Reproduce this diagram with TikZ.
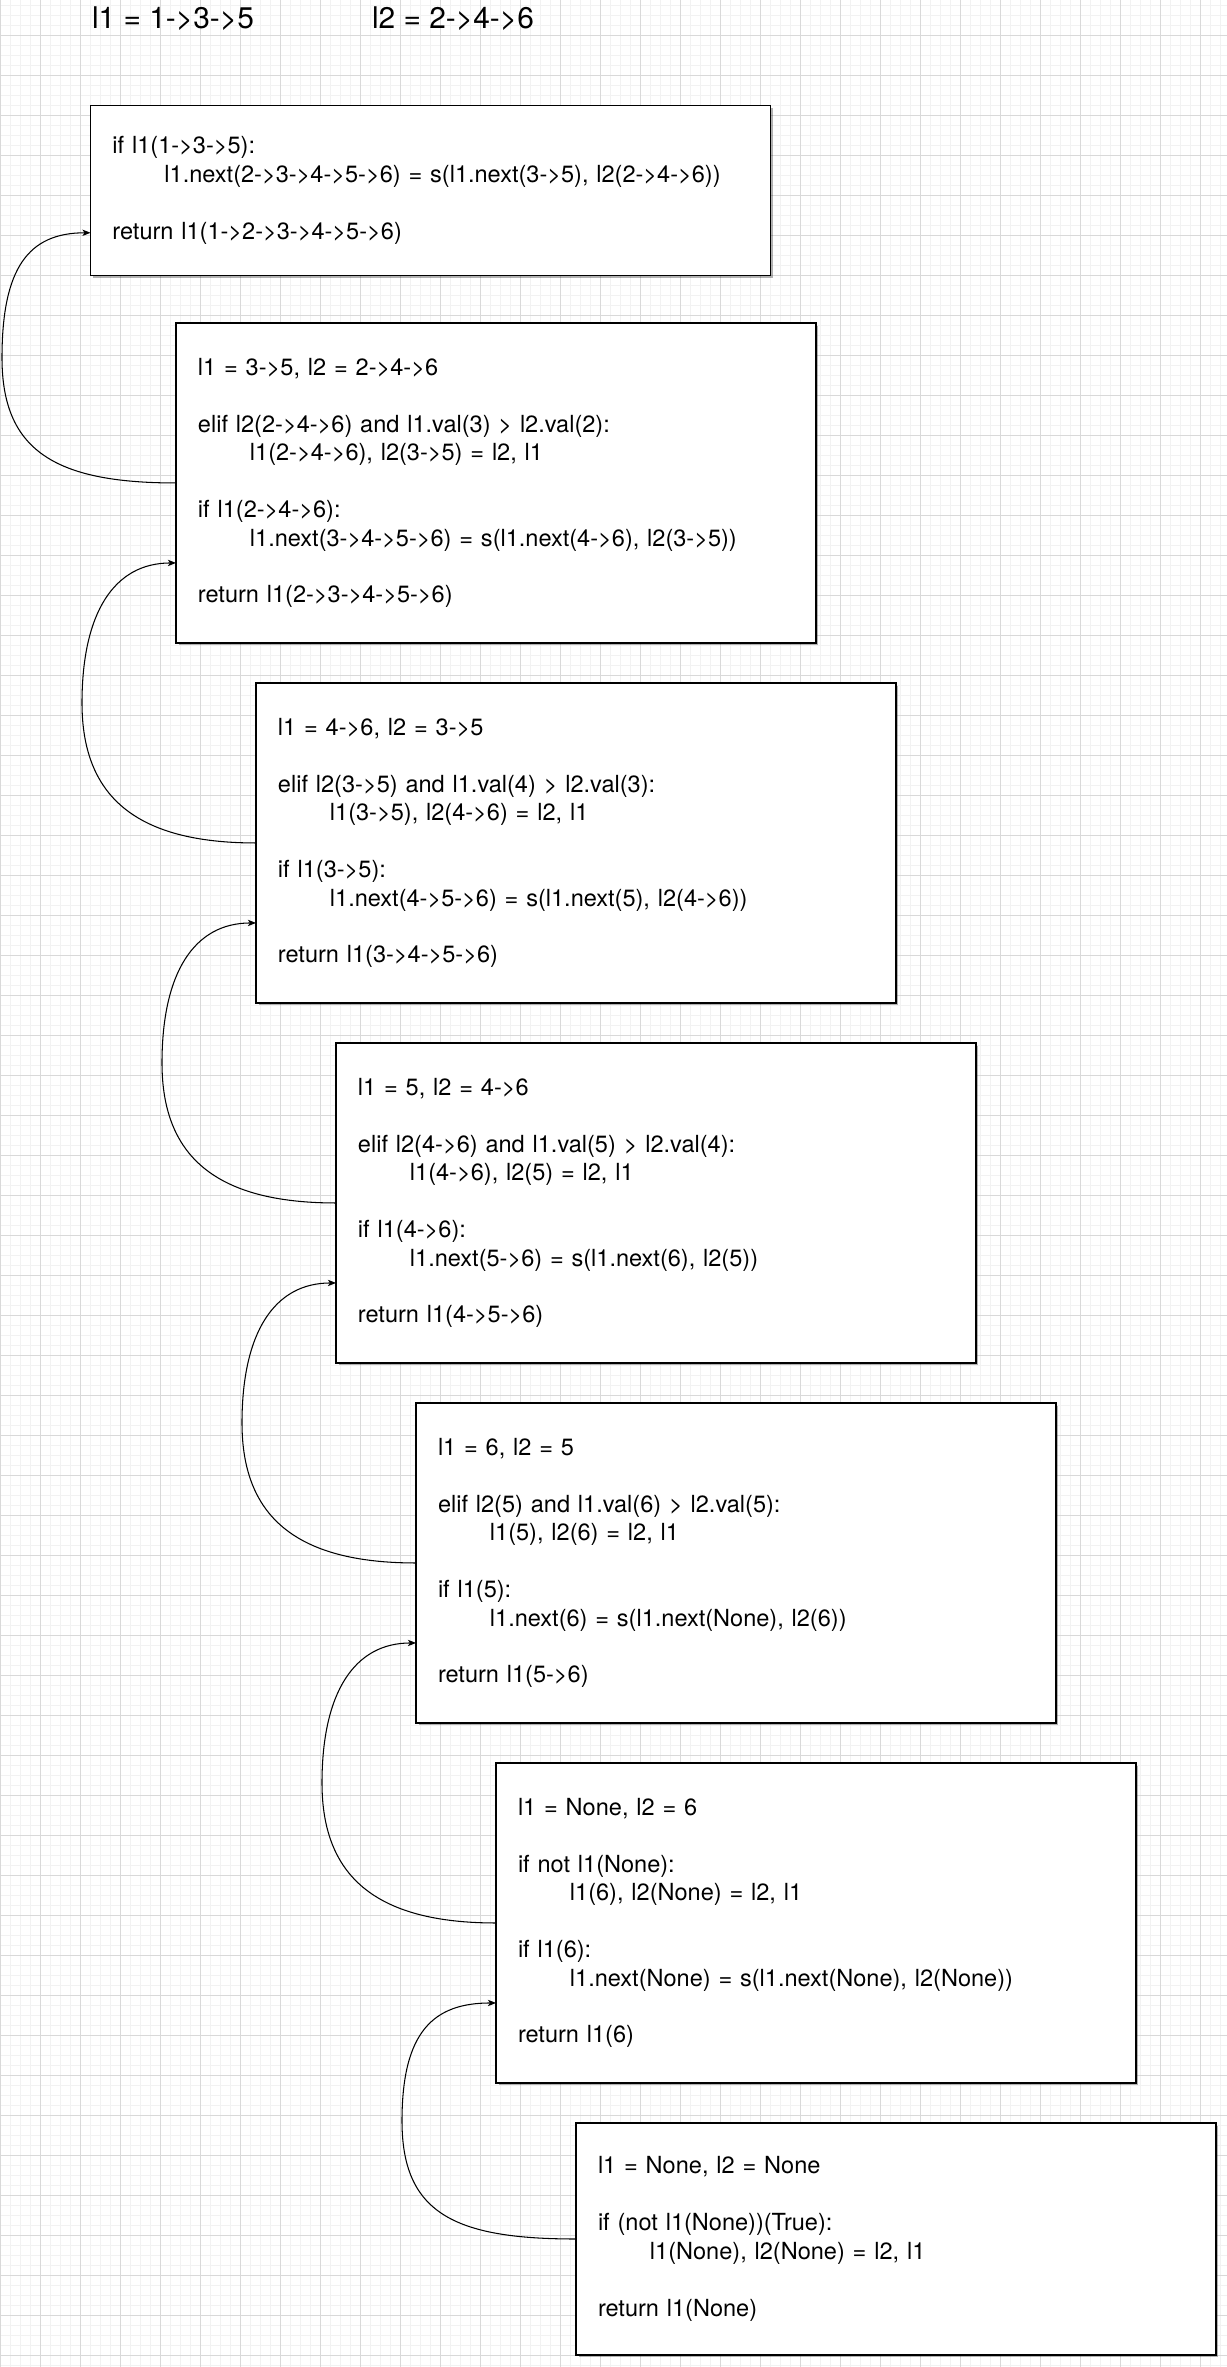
\documentclass[tikz,border=0pt]{standalone}
\usepackage{fontspec}
\setmainfont{TeX Gyre Heros}
\usepackage{tikz}
\usetikzlibrary{shadows,calc,arrows.meta}

\newcommand{\ind}{\hspace*{1.04cm}}

\begin{document}
\begin{tikzpicture}[
  x=0.02cm, y=-0.02cm,
  gridMinor/.style={black!5, line width=0.5pt},
  gridMajor/.style={black!15, line width=0.5pt},
  titleText/.style={anchor=west, inner sep=0pt, font=\fontsize{17}{20}\selectfont},
  codeBox/.style={draw=black, line width=0.75pt, fill=white, anchor=north west, inner xsep=0.44cm, inner ysep=0pt, outer sep=0pt, align=left, text width=11.92cm, minimum height=6.4cm, font=\fontsize{13.4}{16.2}\selectfont, drop shadow={shadow xshift=0.05cm, shadow yshift=-0.05cm, fill=black, opacity=0.3}},
  callLink/.style={line width=0.6pt, -{Stealth[length=4.6pt, width=3.6pt, inset=1.2pt]}}]

\useasboundingbox (0,0) rectangle (1227,2367);
\fill[white] (0,0) rectangle (1227,2367);

% background grid
\foreach \gx in {0,10,...,1220} \draw[gridMinor] (\gx,0) -- (\gx,2367);
\foreach \gy in {5,15,...,2365} \draw[gridMinor] (0,\gy) -- (1227,\gy);
\foreach \gx in {0,40,...,1200} \draw[gridMajor] (\gx,0) -- (\gx,2367);
\foreach \gy in {35,75,...,2355} \draw[gridMajor] (0,\gy) -- (1227,\gy);

\node[titleText] (t1) at (91.7,19) {l1 = 1->3->5};
\node[titleText] (t2) at (371.7,19) {l2 = 2->4->6};

\node[codeBox, minimum height=3.4cm, text width=12.72cm] (b1) at (90.5,105.3) {if l1(1->3->5):\\ \ind l1.next(2->3->4->5->6) = s(l1.next(3->5), l2(2->4->6))\\[0.57cm] return l1(1->2->3->4->5->6)};

\node[codeBox] (b2) at (176,323) {l1 = 3->5, l2 = 2->4->6\\[0.57cm] elif l2(2->4->6) and l1.val(3) > l2.val(2):\\ \ind l1(2->4->6), l2(3->5) = l2, l1\\[0.57cm] if l1(2->4->6):\\ \ind l1.next(3->4->5->6) = s(l1.next(4->6), l2(3->5))\\[0.57cm] return l1(2->3->4->5->6)};

\node[codeBox] (b3) at (256,683) {l1 = 4->6, l2 = 3->5\\[0.57cm] elif l2(3->5) and l1.val(4) > l2.val(3):\\ \ind l1(3->5), l2(4->6) = l2, l1\\[0.57cm] if l1(3->5):\\ \ind l1.next(4->5->6) = s(l1.next(5), l2(4->6))\\[0.57cm] return l1(3->4->5->6)};

\node[codeBox] (b4) at (336,1043) {l1 = 5, l2 = 4->6\\[0.57cm] elif l2(4->6) and l1.val(5) > l2.val(4):\\ \ind l1(4->6), l2(5) = l2, l1\\[0.57cm] if l1(4->6):\\ \ind l1.next(5->6) = s(l1.next(6), l2(5))\\[0.57cm] return l1(4->5->6)};

\node[codeBox] (b5) at (416,1403) {l1 = 6, l2 = 5\\[0.57cm] elif l2(5) and l1.val(6) > l2.val(5):\\ \ind l1(5), l2(6) = l2, l1\\[0.57cm] if l1(5):\\ \ind l1.next(6) = s(l1.next(None), l2(6))\\[0.57cm] return l1(5->6)};

\node[codeBox] (b6) at (496,1763) {l1 = None, l2 = 6\\[0.57cm] if not l1(None):\\ \ind l1(6), l2(None) = l2, l1\\[0.57cm] if l1(6):\\ \ind l1.next(None) = s(l1.next(None), l2(None))\\[0.57cm] return l1(6)};

\node[codeBox, minimum height=4.64cm] (b7) at (576,2123) {l1 = None, l2 = None\\[0.57cm] if (not l1(None))(True):\\ \ind l1(None), l2(None) = l2, l1\\[0.57cm] return l1(None)};

% each call returns into the box above it
\foreach \lo/\hi in {2/1,3/2,4/3,5/4,6/5,7/6} {
  \coordinate (in\hi) at ($(b\hi.north west)!0.75!(b\hi.south west)$);
  \coordinate (side\hi) at ($(b\lo.west)+(-174,0)$);
  \coordinate (mid\hi) at ($(b\lo.west)!0.5!(in\hi)$);
  \draw[callLink] (b\lo.west) .. controls +(-122,0) and +(0,92) .. (side\hi |- mid\hi)
    .. controls +(0,-90) and +(-62,0) .. (in\hi);
}
\end{tikzpicture}
\end{document}
